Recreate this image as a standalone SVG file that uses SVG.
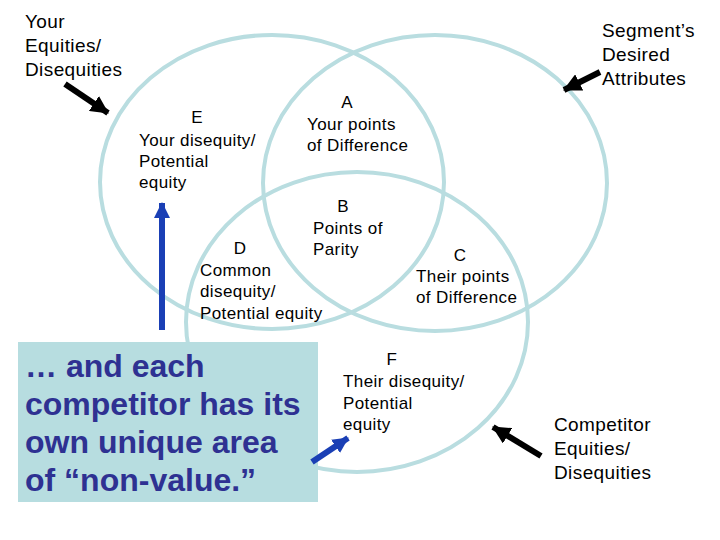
<svg xmlns="http://www.w3.org/2000/svg" width="720" height="540" viewBox="0 0 720 540">
<style>
.ring{fill:none;stroke:#b9dde0;stroke-width:4}
.lbl{font-family:"Liberation Sans",Arial,sans-serif;font-size:17px;fill:#000;letter-spacing:0.4px}
.big{font-family:"Liberation Sans",Arial,sans-serif;font-size:19px;fill:#000;letter-spacing:0.4px}
.box{font-family:"Liberation Sans",Arial,sans-serif;font-size:32px;font-weight:bold;fill:#2e3192}
.mid{text-anchor:middle}
.blk{stroke:#000;stroke-width:6;fill:none}
.blu{stroke:#1a3fb5;stroke-width:6;fill:none}
</style>
<defs>
<marker id="hk" markerUnits="userSpaceOnUse" markerWidth="18" markerHeight="18" refX="17" refY="9" orient="auto" viewBox="0 0 18 18"><path d="M0,0 L18,9 L0,18 z" fill="#000"/></marker>
<marker id="hb" markerUnits="userSpaceOnUse" markerWidth="16" markerHeight="16" refX="15" refY="8" orient="auto" viewBox="0 0 16 16"><path d="M0,0 L16,8 L0,16 z" fill="#1a3fb5"/></marker>
</defs>
<rect width="720" height="540" fill="#fff"/>
<g id="circles">
<ellipse id="your" class="ring" cx="272" cy="182" rx="172" ry="147"/>
<ellipse id="segment" class="ring" cx="435" cy="183" rx="172" ry="148"/>
<ellipse id="competitor" class="ring" cx="357" cy="322" rx="171" ry="150"/>
</g>
<g id="label-your">
<text class="big" x="25" y="28">Your</text>
<text class="big" x="25" y="52">Equities/</text>
<text class="big" x="25" y="76">Disequities</text>
</g>
<g id="label-segment">
<text class="big" x="602" y="37">Segment’s</text>
<text class="big" x="602" y="61">Desired</text>
<text class="big" x="602" y="85">Attributes</text>
</g>
<g id="label-competitor">
<text class="big" x="554" y="431">Competitor</text>
<text class="big" x="554" y="455">Equities/</text>
<text class="big" x="554" y="479">Disequities</text>
</g>
<g id="node-e">
<text class="lbl mid" x="197" y="123">E</text>
<text class="lbl" x="139" y="146">Your disequity/</text>
<text class="lbl" x="139" y="167">Potential</text>
<text class="lbl" x="139" y="188">equity</text>
</g>
<g id="node-a">
<text class="lbl mid" x="347" y="108">A</text>
<text class="lbl" x="307" y="130">Your points</text>
<text class="lbl" x="307" y="151">of Difference</text>
</g>
<g id="node-b">
<text class="lbl mid" x="343" y="212">B</text>
<text class="lbl" x="313" y="234">Points of</text>
<text class="lbl" x="313" y="255">Parity</text>
</g>
<g id="node-d">
<text class="lbl mid" x="240" y="254">D</text>
<text class="lbl" x="200" y="276">Common</text>
<text class="lbl" x="200" y="297">disequity/</text>
<text class="lbl" x="200" y="319">Potential equity</text>
</g>
<g id="node-c">
<text class="lbl mid" x="460" y="261">C</text>
<text class="lbl" x="416" y="282">Their points</text>
<text class="lbl" x="416" y="303">of Difference</text>
</g>
<g id="node-f">
<text class="lbl mid" x="392" y="365">F</text>
<text class="lbl" x="343" y="387">Their disequity/</text>
<text class="lbl" x="343" y="409">Potential</text>
<text class="lbl" x="343" y="430">equity</text>
</g>
<g id="callout">
<rect x="18" y="342" width="300" height="160" fill="#b7dde0"/>
<text class="box" x="25" y="377">… and each</text>
<text class="box" x="25" y="415">competitor has its</text>
<text class="box" x="25" y="453">own unique area</text>
<text class="box" x="25" y="491">of “non-value.”</text>
</g>
<g id="connectors">
<line class="blk" x1="65" y1="84" x2="108" y2="113" marker-end="url(#hk)"/>
<line class="blk" x1="600" y1="72" x2="564" y2="90" marker-end="url(#hk)"/>
<line class="blk" x1="541" y1="456" x2="493" y2="427" marker-end="url(#hk)"/>
<line class="blu" x1="162" y1="330" x2="162" y2="203" marker-end="url(#hb)"/>
<line class="blu" x1="312" y1="462" x2="348" y2="438" marker-end="url(#hb)"/>
</g>
</svg>
